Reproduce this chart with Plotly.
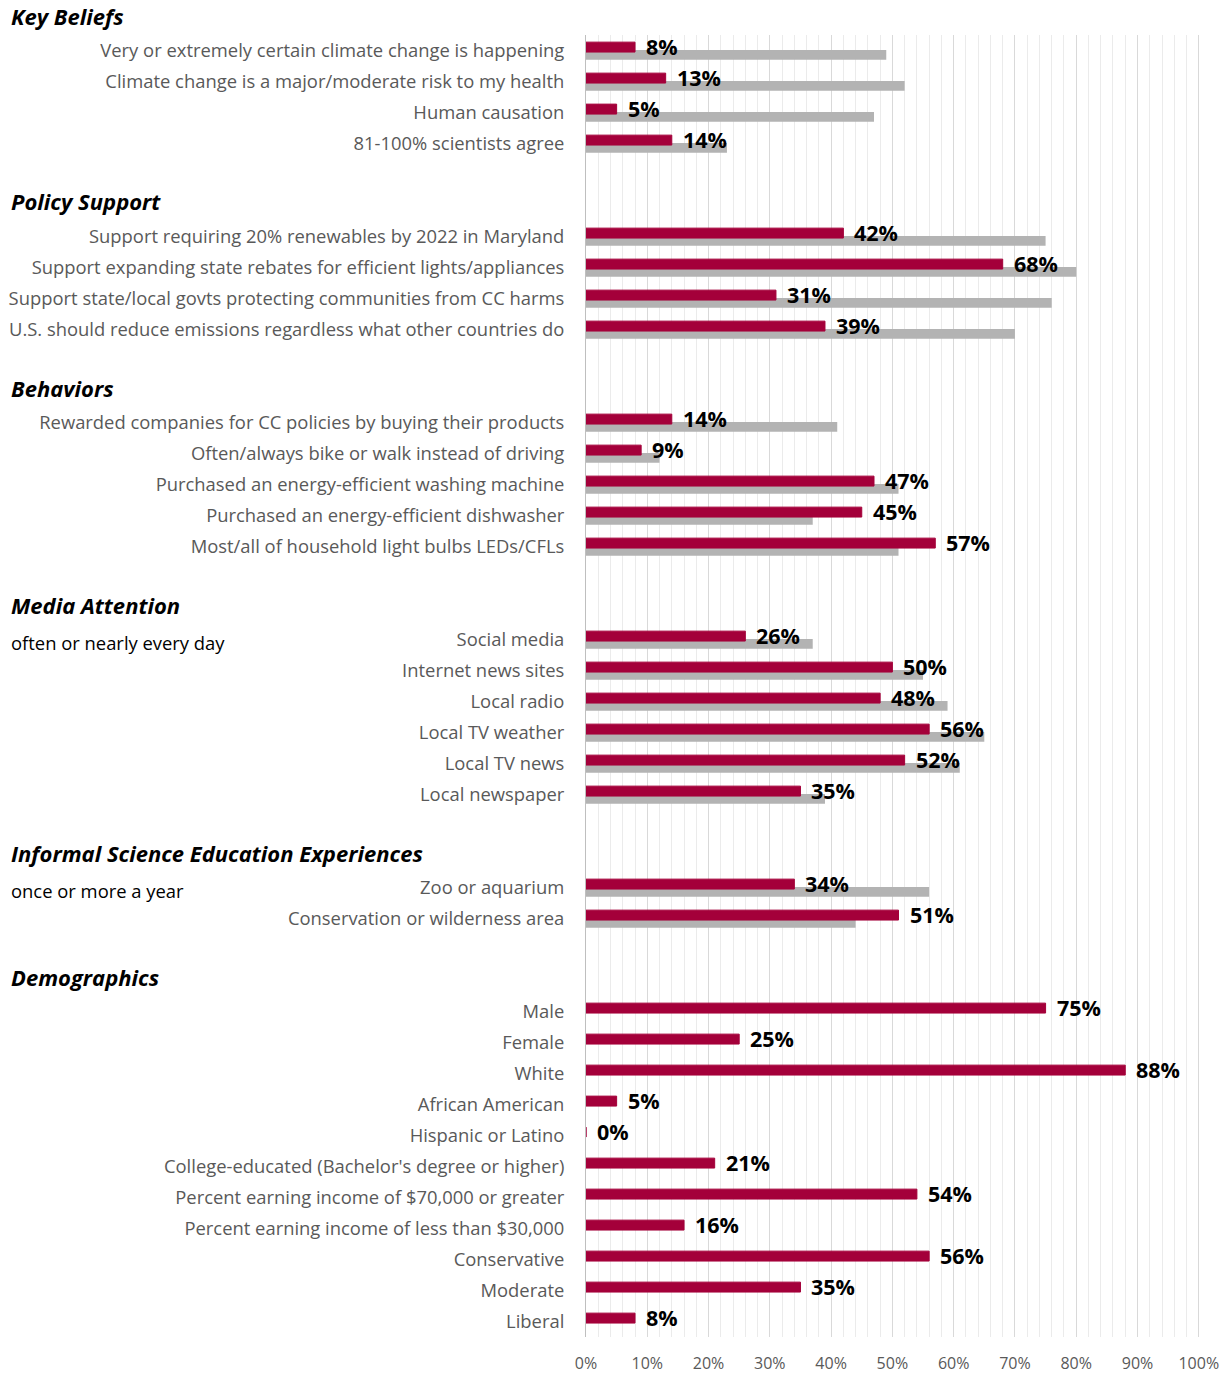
import plotly.graph_objects as go

# ---- data -------------------------------------------------------------
group_titles = ["Key Beliefs", "Policy Support", "Behaviors", "Media Attention",
                "Informal Science Education Experiences", "Demographics"]
group_subtitles = [None, None, None, "often or nearly every day", "once or more a year", None]

key_beliefs_labels = [
    "Very or extremely certain climate change is happening",
    "Climate change is a major/moderate risk to my health",
    "Human causation",
    "81-100% scientists agree",
]
key_beliefs_group = [8, 13, 5, 14]
key_beliefs_overall = [49, 52, 47, 23]

policy_labels = [
    "Support requiring 20% renewables by 2022 in Maryland",
    "Support expanding state rebates for efficient lights/appliances",
    "Support state/local govts protecting communities from CC harms",
    "U.S. should reduce emissions regardless what other countries do",
]
policy_group = [42, 68, 31, 39]
policy_overall = [75, 80, 76, 70]

behavior_labels = [
    "Rewarded companies for CC policies by buying their products",
    "Often/always bike or walk instead of driving",
    "Purchased an energy-efficient washing machine",
    "Purchased an energy-efficient dishwasher",
    "Most/all of household light bulbs LEDs/CFLs",
]
behavior_group = [14, 9, 47, 45, 57]
behavior_overall = [41, 12, 51, 37, 51]

media_labels = [
    "Social media",
    "Internet news sites",
    "Local radio",
    "Local TV weather",
    "Local TV news",
    "Local newspaper",
]
media_group = [26, 50, 48, 56, 52, 35]
media_overall = [37, 55, 59, 65, 61, 39]

informal_labels = ["Zoo or aquarium", "Conservation or wilderness area"]
informal_group = [34, 51]
informal_overall = [56, 44]

demographic_labels = [
    "Male", "Female", "White", "African American", "Hispanic or Latino",
    "College-educated (Bachelor's degree or higher)",
    "Percent earning income of $70,000 or greater",
    "Percent earning income of less than $30,000",
    "Conservative", "Moderate", "Liberal",
]
demographic_group = [75, 25, 88, 5, 0, 21, 54, 16, 56, 35, 8]

x_tick_values = [0, 10, 20, 30, 40, 50, 60, 70, 80, 90, 100]
x_tick_labels = ["0%", "10%", "20%", "30%", "40%", "50%", "60%", "70%", "80%", "90%", "100%"]

# ---- layout of rows ---------------------------------------------------
sections = [
    (key_beliefs_labels, key_beliefs_group, key_beliefs_overall),
    (policy_labels, policy_group, policy_overall),
    (behavior_labels, behavior_group, behavior_overall),
    (media_labels, media_group, media_overall),
    (informal_labels, informal_group, informal_overall),
    (demographic_labels, demographic_group, None),
]
GAP_ROWS = 2

rows, labels, red_vals, gray_vals, first_rows = [], [], [], [], []
r = 0
for i, (lab, grp, ovr) in enumerate(sections):
    first_rows.append(r)
    for j, name in enumerate(lab):
        rows.append(r)
        labels.append(name)
        red_vals.append(grp[j])
        gray_vals.append(ovr[j] if ovr is not None else None)
        r += 1
    if i < len(sections) - 1:
        r += GAP_ROWS
n_rows = r
y_lo, y_hi = -0.5, n_rows - 0.5

RED = "#A4003A"
GRAY = "#B3B3B3"
FONT = "Open Sans"

fig = go.Figure()
fig.add_trace(go.Bar(
    x=gray_vals, y=rows, orientation="h",
    offset=-0.02, width=0.32,
    marker=dict(color=GRAY, line=dict(width=0)),
    hoverinfo="skip", showlegend=False,
))
fig.add_trace(go.Bar(
    x=red_vals, y=rows, orientation="h",
    offset=-0.27, width=0.32,
    marker=dict(color=RED, line=dict(color=RED, width=1)),
    hoverinfo="skip", showlegend=False,
))

annotations = []
# value labels next to the red bars
for yv, xv in zip(rows, red_vals):
    annotations.append(dict(
        x=xv, y=yv, xref="x", yref="y", text=f"{xv}%",
        showarrow=False, xanchor="left", yanchor="middle",
        xshift=9, yshift=4,
        font=dict(family=FONT, size=21.5, color="#000000", weight="bold"),
    ))

def row_to_paper(row):
    return (y_hi - row) / (y_hi - y_lo)

for title, sub, fr in zip(group_titles, group_subtitles, first_rows):
    annotations.append(dict(
        x=0, xref="paper", xshift=-577, y=row_to_paper(fr - 1), yref="paper",
        text=f"<b><i>{title}</i></b>", showarrow=False,
        xanchor="left", yanchor="middle", yshift=4,
        font=dict(family=FONT, size=22, color="#000000"),
    ))
    if sub:
        annotations.append(dict(
            x=0, xref="paper", xshift=-577, y=row_to_paper(fr), yref="paper",
            text=sub, showarrow=False, xanchor="left", yanchor="middle", yshift=-3,
            font=dict(family=FONT, size=18.4, color="#000000"),
        ))

fig.update_layout(
    width=1228, height=1374,
    margin=dict(l=586, r=28, t=35, b=37),
    paper_bgcolor="white", plot_bgcolor="white",
    barmode="overlay",
    annotations=annotations,
    font=dict(family=FONT),
)
fig.update_xaxes(
    range=[0, 100.2], tickvals=x_tick_values, ticktext=x_tick_labels,
    showgrid=True, gridcolor="#D9D9D9", gridwidth=1,
    minor=dict(dtick=2, showgrid=True, gridcolor="#EBEBEB", gridwidth=1),
    zeroline=False, showline=False, automargin=False,
    tickfont=dict(family=FONT, size=16, color="#595959"),
    ticks="", ticklabelstandoff=15,
)
fig.update_yaxes(
    range=[y_hi, y_lo], tickvals=rows, ticktext=labels,
    showgrid=False, zeroline=False, automargin=False,
    showline=True, linecolor="#BFBFBF", linewidth=1,
    tickfont=dict(family=FONT, size=18.4, color="#595959"),
    ticks="", ticklabelstandoff=17,
)

fig.write_html("out.html")
